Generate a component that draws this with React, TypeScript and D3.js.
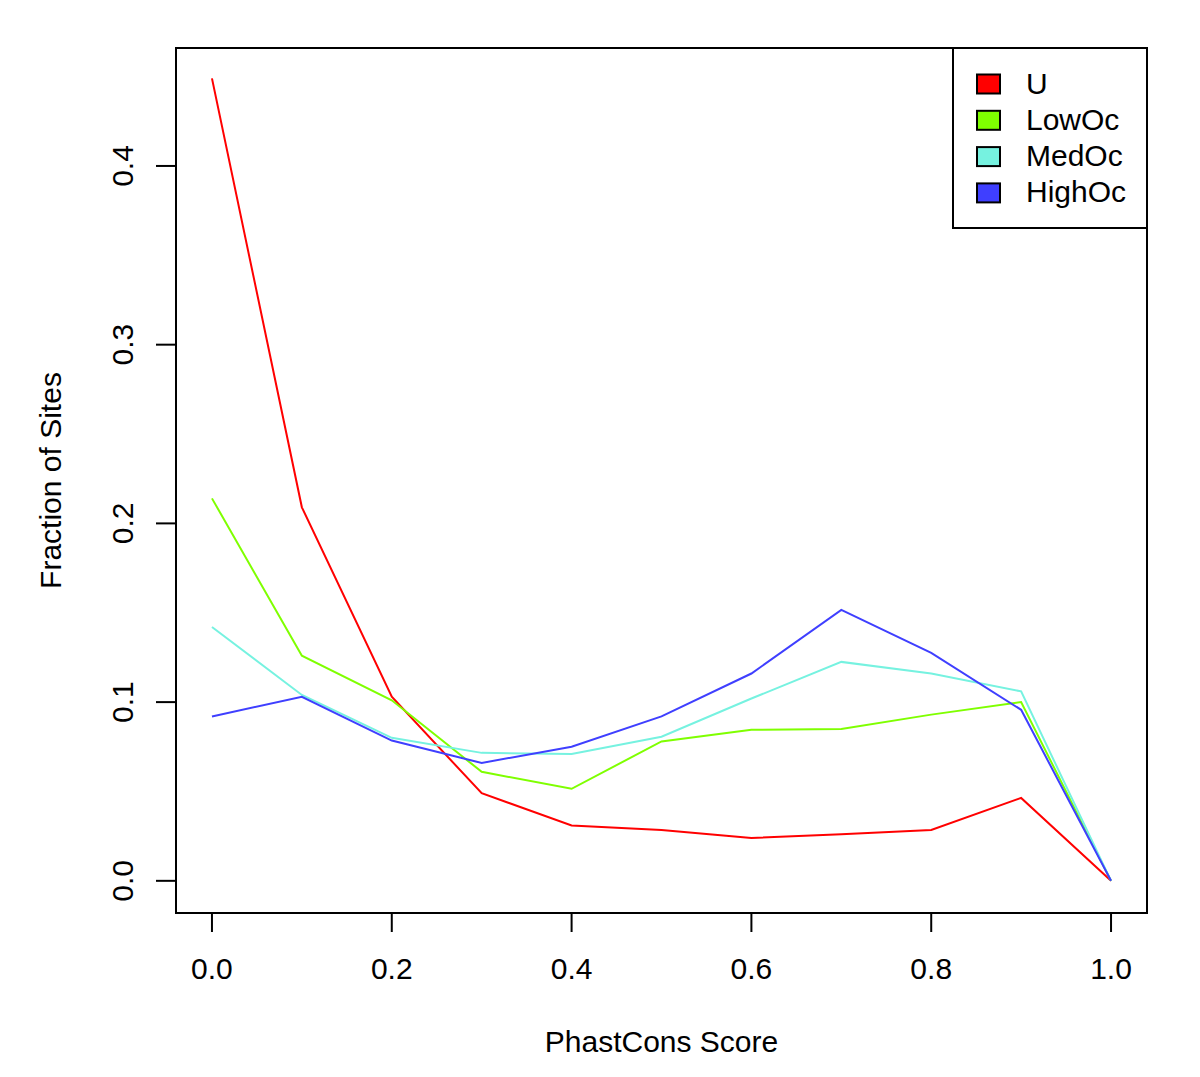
import React, { useRef, useEffect } from 'react';
import * as d3 from 'd3';

const scores = [0, 0.1, 0.2, 0.3, 0.4, 0.5, 0.6, 0.7, 0.8, 0.9, 1.0];
const uVals = [0.449, 0.209, 0.103, 0.049, 0.031, 0.0285, 0.024, 0.026, 0.0285, 0.0464, 0];
const lowVals = [0.214, 0.126, 0.101, 0.061, 0.0515, 0.078, 0.0845, 0.085, 0.093, 0.1, 0];
const medVals = [0.142, 0.104, 0.08, 0.0716, 0.071, 0.0806, 0.102, 0.1225, 0.116, 0.106, 0];
const highVals = [0.092, 0.103, 0.0785, 0.066, 0.075, 0.092, 0.116, 0.1516, 0.1275, 0.0957, 0];

const seriesNames = ['U', 'LowOc', 'MedOc', 'HighOc'];
const seriesColors = ['#ff0000', '#7fff00', '#76f2e0', '#3f3fff'];
const xTicks = [0, 0.2, 0.4, 0.6, 0.8, 1.0];
const yTicks = [0, 0.1, 0.2, 0.3, 0.4];

const W = 1200;
const H = 1077;
const FONT = '"Liberation Sans", Arial, Helvetica, sans-serif';

const App = () => {
  const chartRef = useRef<HTMLDivElement>(null);

  useEffect(() => {
    document.body.style.margin = '0';
    const box = { left: 176, right: 1147, top: 48, bottom: 913 };

    d3.select(chartRef.current).select('svg').remove();
    const svg = d3
      .select(chartRef.current)
      .append('svg')
      .attr('width', W)
      .attr('height', H)
      .style('display', 'block')
      .style('background', '#fff');

    // R style 4% padding on x, y
    const x = d3.scaleLinear().domain([-0.04, 1.04]).range([box.left, box.right]);
    const y = d3.scaleLinear().domain([-0.018, 0.466]).range([box.bottom, box.top]);

    const allSeries = [uVals, lowVals, medVals, highVals];
    const line = d3
      .line<number>()
      .x((_, i) => x(scores[i]))
      .y(d => y(d));

    allSeries.forEach((vals, i) => {
      svg
        .append('path')
        .attr('d', line(vals))
        .attr('fill', 'none')
        .attr('stroke', seriesColors[i])
        .attr('stroke-width', 2);
    });

    // plot frame
    svg
      .append('rect')
      .attr('x', box.left)
      .attr('y', box.top)
      .attr('width', box.right - box.left)
      .attr('height', box.bottom - box.top)
      .attr('fill', 'none')
      .attr('stroke', '#000')
      .attr('stroke-width', 2);

    // x axis
    const xAxis = svg.append('g');
    xTicks.forEach(t => {
      xAxis
        .append('line')
        .attr('x1', x(t))
        .attr('x2', x(t))
        .attr('y1', box.bottom)
        .attr('y2', box.bottom + 19)
        .attr('stroke', '#000')
        .attr('stroke-width', 2);
      xAxis
        .append('text')
        .attr('x', x(t))
        .attr('y', 979)
        .attr('text-anchor', 'middle')
        .style('font-family', FONT)
        .style('font-size', '30px')
        .text(t.toFixed(1));
    });

    // y axis
    const yAxis = svg.append('g');
    yTicks.forEach(t => {
      yAxis
        .append('line')
        .attr('x1', box.left - 20)
        .attr('x2', box.left)
        .attr('y1', y(t))
        .attr('y2', y(t))
        .attr('stroke', '#000')
        .attr('stroke-width', 2);
      yAxis
        .append('text')
        .attr('transform', `translate(133,${y(t)}) rotate(-90)`)
        .attr('text-anchor', 'middle')
        .style('font-family', FONT)
        .style('font-size', '30px')
        .text(t.toFixed(1));
    });

    svg
      .append('text')
      .attr('x', (box.left + box.right) / 2)
      .attr('y', 1052)
      .attr('text-anchor', 'middle')
      .style('font-family', FONT)
      .style('font-size', '30px')
      .text('PhastCons Score');

    svg
      .append('text')
      .attr('transform', `translate(61,${(box.top + box.bottom) / 2}) rotate(-90)`)
      .attr('text-anchor', 'middle')
      .style('font-family', FONT)
      .style('font-size', '30px')
      .text('Fraction of Sites');

    // legend
    const legend = svg.append('g');
    legend
      .append('rect')
      .attr('x', 953)
      .attr('y', box.top)
      .attr('width', box.right - 953)
      .attr('height', 228 - box.top)
      .attr('fill', '#fff')
      .attr('stroke', '#000')
      .attr('stroke-width', 2);

    seriesNames.forEach((name, i) => {
      const cy = 84.5 + i * 36.3;
      legend
        .append('rect')
        .attr('x', 977)
        .attr('y', cy - 10)
        .attr('width', 23)
        .attr('height', 19)
        .attr('fill', seriesColors[i])
        .attr('stroke', '#000')
        .attr('stroke-width', 2);
      legend
        .append('text')
        .attr('x', 1026)
        .attr('y', cy + 9)
        .style('font-family', FONT)
        .style('font-size', '30px')
        .text(name);
    });
  }, []);

  return <div ref={chartRef} className="line-chart"></div>;
};

export default App;
